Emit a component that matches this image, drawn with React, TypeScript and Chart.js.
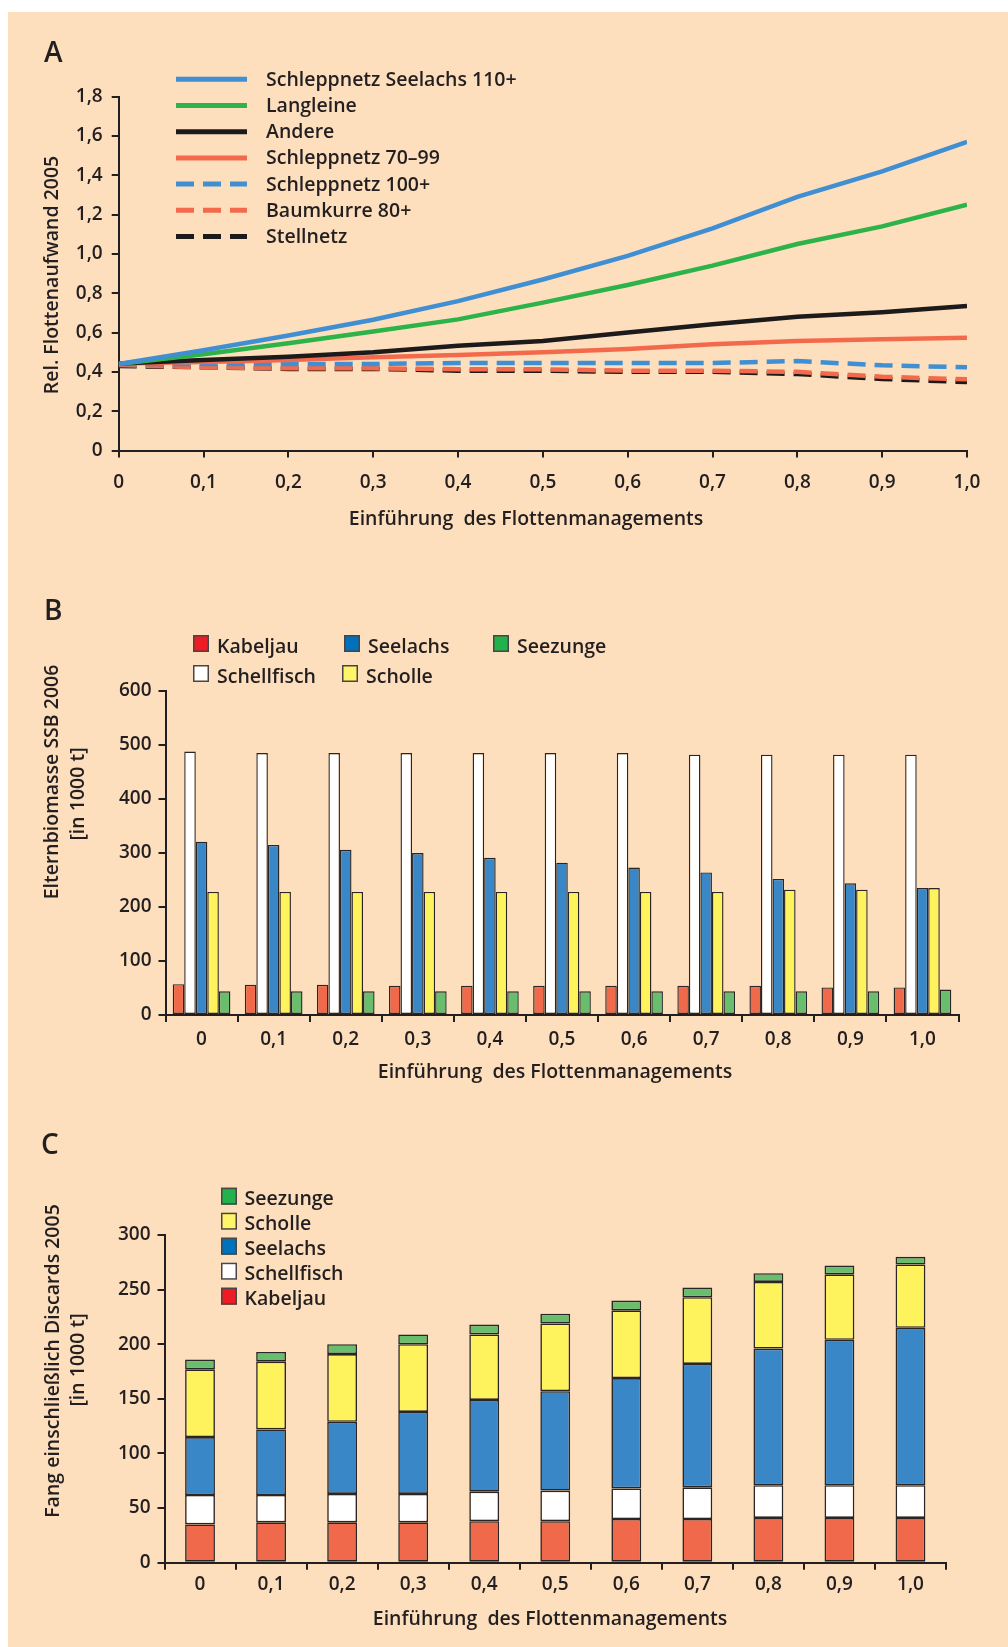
import React, { useEffect, useRef } from 'react';
import { Chart, registerables } from 'chart.js';

Chart.register(...registerables);

const FONT = '"Open Sans", "Noto Sans", sans-serif';
const INK = '#231f20';
const BG = '#fddfbe';
const TXT_W = '600';
const TXT_S = 19.5;
const TICK_S = 19;

// ---------- Panel A: relative fleet effort ----------
const effortX = [0, 0.1, 0.2, 0.3, 0.4, 0.5, 0.6, 0.7, 0.8, 0.9, 1.0];
const effortNames = [
  'Schleppnetz Seelachs 110+',
  'Langleine',
  'Andere',
  'Schleppnetz 70–99',
  'Schleppnetz 100+',
  'Baumkurre 80+',
  'Stellnetz',
];
const seelachs110 = [0.44, 0.51, 0.585, 0.665, 0.76, 0.87, 0.99, 1.13, 1.29, 1.42, 1.57];
const langleine = [0.44, 0.49, 0.545, 0.605, 0.667, 0.752, 0.842, 0.94, 1.05, 1.14, 1.25];
const andere = [0.443, 0.46, 0.477, 0.5, 0.533, 0.557, 0.6, 0.642, 0.68, 0.703, 0.735];
const schlepp7099 = [0.443, 0.45, 0.46, 0.474, 0.486, 0.5, 0.516, 0.54, 0.557, 0.566, 0.574];
const schlepp100 = [0.44, 0.44, 0.44, 0.44, 0.445, 0.445, 0.445, 0.445, 0.455, 0.433, 0.423];
const baumkurre80 = [0.435, 0.423, 0.418, 0.418, 0.413, 0.413, 0.406, 0.406, 0.4, 0.375, 0.362];
const stellnetz = [0.43, 0.423, 0.415, 0.415, 0.406, 0.406, 0.4, 0.4, 0.389, 0.364, 0.348];
const effortYTicks = [0, 0.2, 0.4, 0.6, 0.8, 1.0, 1.2, 1.4, 1.6, 1.8];

// ---------- Panel B: spawning stock biomass 2006 ----------
const catLabels = ['0', '0,1', '0,2', '0,3', '0,4', '0,5', '0,6', '0,7', '0,8', '0,9', '1,0'];
const ssbKabeljau = [57, 56, 56, 54, 54, 54, 54, 54, 54, 51, 51];
const ssbSchellfisch = [488, 485, 485, 485, 485, 485, 485, 482, 482, 482, 482];
const ssbSeelachs = [321, 315, 306, 300, 291, 282, 273, 264, 252, 244, 235];
const ssbScholle = [228, 228, 228, 228, 228, 228, 228, 228, 232, 232, 235];
const ssbSeezunge = [44, 44, 44, 44, 44, 44, 44, 44, 44, 44, 47];

// ---------- Panel C: catch incl. discards 2005 (stacked) ----------
const fangKabeljau = [35, 37, 37, 37, 38, 38, 40, 40, 41, 41, 41];
const fangSchellfisch = [27, 25, 26, 26, 27, 28, 28, 29, 30, 30, 30];
const fangSeelachs = [53, 60, 66, 75, 84, 91, 101, 113, 125, 133, 144];
const fangScholle = [62, 62, 62, 62, 60, 62, 62, 61, 61, 60, 58];
const fangSeezunge = [9, 9, 9, 9, 9, 9, 9, 9, 8, 8, 7];

const fmtComma = (v: number) => (Math.abs(v) < 1e-9 ? '0' : Number(v).toFixed(1).replace('.', ','));

type TextItem = {
  text: string;
  x: number;
  y: number;
  size?: number;
  weight?: string;
  align?: CanvasTextAlign;
  rotate?: boolean;
};

function drawTexts(ctx: CanvasRenderingContext2D, items: TextItem[]) {
  ctx.save();
  ctx.fillStyle = INK;
  ctx.textBaseline = 'alphabetic';
  for (const it of items) {
    ctx.font = `${it.weight || TXT_W} ${it.size || TXT_S}px ${FONT}`;
    ctx.textAlign = it.align || 'left';
    if (it.rotate) {
      ctx.save();
      ctx.translate(it.x, it.y);
      ctx.rotate(-Math.PI / 2);
      ctx.fillText(it.text, 0, 0);
      ctx.restore();
    } else {
      ctx.fillText(it.text, it.x, it.y);
    }
  }
  ctx.restore();
}

function axisCommon(padding: number) {
  return {
    grid: { drawOnChartArea: false, drawTicks: true, tickLength: 7, color: INK, lineWidth: 2 },
    border: { display: true, color: INK, width: 2 },
    ticks: {
      color: INK,
      padding,
      font: { family: FONT, size: TICK_S, weight: TXT_W as any },
      autoSkip: false,
      maxRotation: 0,
      minRotation: 0,
    },
  };
}

// ---------- chart builders ----------
function makeA(canvas: HTMLCanvasElement) {
  const colors = ['#3f8fd2', '#2db34a', '#1c1a1a', '#f26a4b', '#3f8fd2', '#f26a4b', '#1c1a1a'];
  const series = [seelachs110, langleine, andere, schlepp7099, schlepp100, baumkurre80, stellnetz];
  const datasets = series.map((s, i) => ({
    label: effortNames[i],
    data: s.map((y, j) => ({ x: effortX[j], y })),
    borderColor: colors[i],
    backgroundColor: colors[i],
    borderWidth: 4.5,
    borderDash: i >= 4 ? [18, 9] : [],
    borderCapStyle: 'butt' as CanvasLineCap,
    pointRadius: 0,
    tension: 0,
    fill: false,
  }));
  const xa = axisCommon(14);
  const ya = axisCommon(9);
  const plugin = {
    id: 'panelA',
    afterDraw(chart: any) {
      const ctx: CanvasRenderingContext2D = chart.ctx;
      const ds = chart.data.datasets;
      ds.forEach((d: any, i: number) => {
        const y = 79.3 + i * 26.2;
        ctx.save();
        ctx.strokeStyle = d.borderColor;
        ctx.lineWidth = 5;
        ctx.lineCap = 'butt';
        ctx.setLineDash(d.borderDash && d.borderDash.length ? [18, 9] : []);
        ctx.beginPath();
        ctx.moveTo(176, y);
        ctx.lineTo(247, y);
        ctx.stroke();
        ctx.restore();
        drawTexts(ctx, [{ text: d.label, x: 266, y: y + 6.5 }]);
      });
      drawTexts(ctx, [
        { text: 'A', x: 44, y: 61.7, size: 28, weight: '600' },
        { text: 'Einführung  des Flottenmanagements', x: 526, y: 524.5, align: 'center' },
        { text: 'Rel. Flottenaufwand 2005', x: 58, y: 275, align: 'center', rotate: true },
      ]);
    },
  };
  return new Chart(canvas, {
    type: 'line',
    data: { datasets },
    options: {
      responsive: false,
      animation: false,
      layout: { padding: { top: 96.6, left: 0, right: 41, bottom: 0 } },
      plugins: { legend: { display: false }, tooltip: { enabled: false } },
      scales: {
        x: {
          type: 'linear',
          min: 0,
          max: 1,
          ...xa,
          ticks: { ...xa.ticks, stepSize: 0.1, callback: (v: any) => fmtComma(Number(v)) },
          afterFit: (s: any) => { s.height = 109.5; },
        },
        y: {
          type: 'linear',
          min: effortYTicks[0],
          max: effortYTicks[effortYTicks.length - 1],
          ...ya,
          ticks: { ...ya.ticks, stepSize: 0.2, callback: (v: any) => fmtComma(Number(v)) },
          afterFit: (s: any) => { s.width = 118.7; },
        },
      },
    } as any,
    plugins: [plugin],
  });
}

const BAR_RED = '#f0694a';
const BAR_WHITE = '#ffffff';
const BAR_BLUE = '#3a87c8';
const BAR_YELLOW = '#fff35d';
const BAR_GREEN = '#69be6e';
const BAR_EDGE = '#2a2626';

function legendSquare(ctx: CanvasRenderingContext2D, x: number, y: number, color: string) {
  ctx.save();
  ctx.fillStyle = color;
  ctx.fillRect(x, y, 16, 17);
  ctx.strokeStyle = '#4a4444';
  ctx.lineWidth = 1.5;
  ctx.strokeRect(x + 0.75, y + 0.75, 14.5, 15.5);
  ctx.restore();
}

function makeB(canvas: HTMLCanvasElement) {
  const OFF = 560;
  const names = ['Kabeljau', 'Schellfisch', 'Seelachs', 'Scholle', 'Seezunge'];
  const vals = [ssbKabeljau, ssbSchellfisch, ssbSeelachs, ssbScholle, ssbSeezunge];
  const cols = [BAR_RED, BAR_WHITE, BAR_BLUE, BAR_YELLOW, BAR_GREEN];
  const datasets = vals.map((v, i) => ({
    label: names[i],
    data: v,
    backgroundColor: cols[i],
    borderColor: BAR_EDGE,
    borderWidth: 1.4,
    borderSkipped: false,
    categoryPercentage: 0.8,
    barPercentage: 1.0,
  }));
  const xa = axisCommon(6);
  const ya = axisCommon(7);
  const plugin = {
    id: 'panelB',
    afterDraw(chart: any) {
      const ctx: CanvasRenderingContext2D = chart.ctx;
      const leg = [
        { name: 'Kabeljau', color: '#ed1c24', x: 193, y: 635 },
        { name: 'Seelachs', color: '#0072bc', x: 344, y: 635 },
        { name: 'Seezunge', color: '#22b14c', x: 493, y: 635 },
        { name: 'Schellfisch', color: '#ffffff', x: 193, y: 665 },
        { name: 'Scholle', color: '#fff568', x: 342, y: 665 },
      ];
      leg.forEach((l) => {
        legendSquare(ctx, l.x, l.y - OFF, l.color);
        drawTexts(ctx, [{ text: l.name, x: l.x + 24, y: l.y - OFF + 17.5 }]);
      });
      drawTexts(ctx, [
        { text: 'B', x: 44, y: 620 - OFF, size: 28, weight: '600' },
        { text: 'Einführung  des Flottenmanagements', x: 555, y: 1078 - OFF, align: 'center' },
        { text: 'Elternbiomasse SSB 2006', x: 58.3, y: 782 - OFF, align: 'center', rotate: true },
        { text: '[in 1000 t]', x: 84, y: 794 - OFF, align: 'center', rotate: true },
      ]);
    },
  };
  return new Chart(canvas, {
    type: 'bar',
    data: { labels: catLabels, datasets },
    options: {
      responsive: false,
      animation: false,
      layout: { padding: { top: 131, left: 0, right: 49.5, bottom: 0 } },
      plugins: { legend: { display: false }, tooltip: { enabled: false } },
      scales: {
        x: {
          ...xa,
          grid: { ...xa.grid, offset: true },
          afterFit: (s: any) => { s.height = 85; },
        },
        y: {
          min: 0,
          max: 600,
          ...ya,
          ticks: { ...ya.ticks, stepSize: 100 },
          afterFit: (s: any) => { s.width = 165.5; },
        },
      },
    } as any,
    plugins: [plugin],
  });
}

function makeC(canvas: HTMLCanvasElement) {
  const OFF = 1100;
  const names = ['Kabeljau', 'Schellfisch', 'Seelachs', 'Scholle', 'Seezunge'];
  const vals = [fangKabeljau, fangSchellfisch, fangSeelachs, fangScholle, fangSeezunge];
  const cols = [BAR_RED, BAR_WHITE, BAR_BLUE, BAR_YELLOW, BAR_GREEN];
  const datasets = vals.map((v, i) => ({
    label: names[i],
    data: v,
    backgroundColor: cols[i],
    borderColor: BAR_EDGE,
    borderWidth: 1.6,
    borderSkipped: false,
    categoryPercentage: 0.42,
    barPercentage: 1.0,
  }));
  const xa = axisCommon(3.5);
  const ya = axisCommon(7);
  const plugin = {
    id: 'panelC',
    afterDraw(chart: any) {
      const ctx: CanvasRenderingContext2D = chart.ctx;
      const legColors: Record<string, string> = {
        Seezunge: '#22b14c',
        Scholle: '#fff568',
        Seelachs: '#0072bc',
        Schellfisch: '#ffffff',
        Kabeljau: '#ed1c24',
      };
      const order = ['Seezunge', 'Scholle', 'Seelachs', 'Schellfisch', 'Kabeljau'];
      order.forEach((n, i) => {
        const y = 1187.7 + i * 25 - OFF;
        legendSquare(ctx, 221, y, legColors[n]);
        drawTexts(ctx, [{ text: n, x: 244.5, y: y + 17.3 }]);
      });
      drawTexts(ctx, [
        { text: 'C', x: 41, y: 1154 - OFF, size: 28, weight: '600' },
        { text: 'Einführung  des Flottenmanagements', x: 550, y: 1624.5 - OFF, align: 'center' },
        { text: 'Fang einschließlich Discards 2005', x: 59.3, y: 1361 - OFF, align: 'center', rotate: true },
        { text: '[in 1000 t]', x: 83.5, y: 1360 - OFF, align: 'center', rotate: true },
      ]);
    },
  };
  return new Chart(canvas, {
    type: 'bar',
    data: { labels: catLabels, datasets },
    options: {
      responsive: false,
      animation: false,
      layout: { padding: { top: 135, left: 0, right: 62, bottom: 0 } },
      plugins: { legend: { display: false }, tooltip: { enabled: false } },
      scales: {
        x: {
          stacked: true,
          ...xa,
          grid: { ...xa.grid, offset: true },
          afterFit: (s: any) => { s.height = 84.3; },
        },
        y: {
          stacked: true,
          min: 0,
          max: 300,
          ...ya,
          ticks: { ...ya.ticks, stepSize: 50 },
          afterFit: (s: any) => { s.width = 164.5; },
        },
      },
    } as any,
    plugins: [plugin],
  });
}

function ChartCanvas({ top, height, make }: { top: number; height: number; make: (c: HTMLCanvasElement) => Chart }) {
  const ref = useRef<HTMLCanvasElement>(null);
  useEffect(() => {
    const chart = make(ref.current as HTMLCanvasElement);
    return () => chart.destroy();
  }, []);
  return (
    <canvas
      ref={ref}
      width={1008}
      height={height}
      style={{ position: 'absolute', left: 0, top, width: 1008, height, display: 'block' }}
    />
  );
}

export default function App() {
  return (
    <div style={{ position: 'absolute', left: 0, top: 0, width: 1008, height: 1647, background: '#ffffff', overflow: 'hidden' }}>
      <div style={{ position: 'absolute', left: 8, top: 12, width: 1000, height: 1635, background: BG }} />
      <ChartCanvas top={0} height={560} make={makeA} />
      <ChartCanvas top={560} height={540} make={makeB} />
      <ChartCanvas top={1100} height={547} make={makeC} />
    </div>
  );
}
